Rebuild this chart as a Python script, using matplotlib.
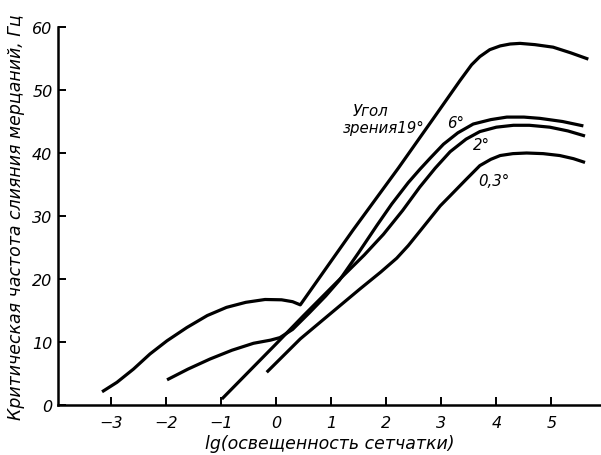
import matplotlib
matplotlib.use("Agg")
import matplotlib.pyplot as plt

# lg retinal illuminance (x) vs critical flicker fusion frequency, Hz (y)
x_19 = [-3.16, -2.89, -2.59, -2.29, -1.98, -1.62, -1.25, -0.90, -0.55, -0.20,
        0.10, 0.30, 0.44, 0.98, 1.40, 2.22, 2.85, 3.34, 3.55, 3.70, 3.88, 4.07,
        4.25, 4.43, 4.70, 5.03, 5.35, 5.67]
y_19 = [2.1, 3.6, 5.7, 8.1, 10.2, 12.3, 14.2, 15.5, 16.3, 16.75,
        16.7, 16.4, 15.9, 22.6, 27.8, 37.6, 45.4, 51.5, 54.0, 55.3, 56.4, 57.0,
        57.3, 57.4, 57.2, 56.8, 55.9, 54.9]

x_6 = [-1.98, -1.60, -1.20, -0.80, -0.41, -0.10, 0.07, 0.30, 0.60, 0.90,
       1.15, 1.50, 1.83, 2.10, 2.40, 2.61, 2.80, 3.04, 3.30, 3.58, 3.90,
       4.19, 4.50, 4.79, 5.20, 5.58]
y_6 = [4.0, 5.7, 7.3, 8.7, 9.8, 10.3, 10.7, 12.0, 14.6, 17.3,
       19.8, 24.2, 28.5, 31.9, 35.3, 37.4, 39.2, 41.4, 43.2, 44.6, 45.3,
       45.7, 45.7, 45.5, 45.0, 44.3]

x_2 = [-0.985, 0.00, 0.50, 1.16, 1.60, 1.95, 2.30, 2.61, 2.89, 3.16,
       3.45, 3.70, 4.00, 4.31, 4.60, 4.97, 5.30, 5.61]
y_2 = [0.95, 9.7, 14.2, 20.0, 23.8, 27.1, 30.9, 34.6, 37.6, 40.2,
       42.2, 43.4, 44.1, 44.4, 44.4, 44.1, 43.5, 42.7]

x_03 = [-0.17, 0.44, 1.00, 1.52, 1.90, 2.19, 2.40, 2.64, 2.98, 3.16,
        3.45, 3.70, 3.90, 4.07, 4.30, 4.55, 4.85, 5.15, 5.40, 5.61]
y_03 = [5.2, 10.5, 14.6, 18.4, 21.1, 23.3, 25.3, 27.9, 31.6, 33.2,
        35.8, 38.0, 39.0, 39.6, 39.9, 40.0, 39.9, 39.6, 39.1, 38.5]

xticks = [-3, -2, -1, 0, 1, 2, 3, 4, 5]
yticks = [0, 10, 20, 30, 40, 50, 60]

fig = plt.figure(figsize=(6.01, 4.56), dpi=100)
ax = fig.add_axes([0.0965, 0.1096, 0.9035, 0.829])

line_kw = dict(color="black", lw=2.3, solid_capstyle="butt", solid_joinstyle="round")
for xs, ys in [(x_19, y_19), (x_6, y_6), (x_2, y_2), (x_03, y_03)]:
    ax.plot(xs, ys, **line_kw)

ax.set_xlim(-3.96, 5.9)
ax.set_ylim(0, 60)
for side in ("top", "right"):
    ax.spines[side].set_visible(False)
for side in ("left", "bottom"):
    ax.spines[side].set_linewidth(1.8)

ax.set_xticks(xticks)
ax.set_yticks(yticks)
ax.set_xticklabels([f"\u2212{abs(t)}" if t < 0 else str(t) for t in xticks],
                   fontsize=11.5, style="italic")
ax.set_yticklabels([str(t) for t in yticks], fontsize=11.5, style="italic")
ax.tick_params(axis="both", direction="in", length=6, width=1.4)
ax.tick_params(axis="x", pad=7)
ax.tick_params(axis="y", pad=4)

ax.set_xlabel("lg(освещенность сетчатки)", fontsize=12.5, style="italic",
              labelpad=3)
ax.set_ylabel("Критическая частота слияния мерцаний, Гц", fontsize=12.5,
              style="italic", labelpad=5)

txt_kw = dict(fontsize=10.8, style="italic", color="black")
ax.text(1.72, 46.8, "Угол", ha="center", va="center", **txt_kw)
ax.text(1.95, 44.0, "зрения19°", ha="center", va="center", **txt_kw)
ax.text(3.25, 44.8, "6°", ha="center", va="center", **txt_kw)
ax.text(3.72, 41.3, "2°", ha="center", va="center", **txt_kw)
ax.text(3.95, 35.6, "0,3°", ha="center", va="center", **txt_kw)

fig.savefig("out.png", dpi=100)
